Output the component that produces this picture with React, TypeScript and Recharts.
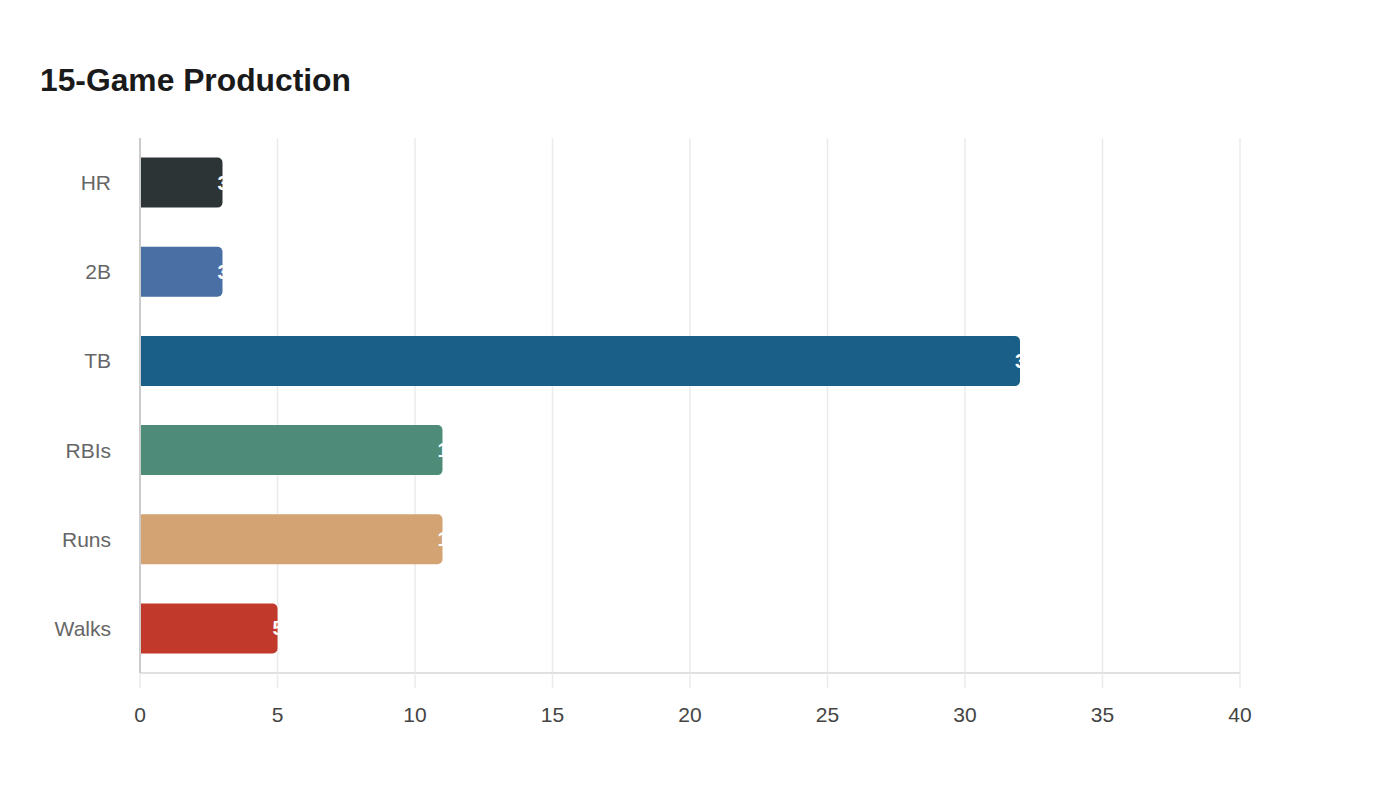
import React from "react";
import { BarChart, Bar, XAxis, YAxis, CartesianGrid, Cell, LabelList } from "recharts";

const categories = ["HR", "2B", "TB", "RBIs", "Runs", "Walks"];
const values = [3, 3, 32, 11, 11, 5];
const colors = ["#2d3436", "#4a6fa5", "#1a5f87", "#4e8c79", "#d4a373", "#c0392b"];
const xTicks = [0, 5, 10, 15, 20, 25, 30, 35, 40];

const data = categories.map((c, i) => ({ name: c, value: values[i] }));

const FONT = "'Liberation Sans', Arial, Helvetica, sans-serif";

const EndLabel = (props: any) => {
  const { x, y, width, height, value } = props;
  return (
    <text
      x={Number(x) + Number(width) - 5}
      y={Number(y) + Number(height) / 2}
      dy="0.35em"
      fill="#ffffff"
      fontSize={20}
      fontWeight="bold"
      fontFamily={FONT}
      textAnchor="start"
    >
      {value}
    </text>
  );
};

export default function App() {
  return (
    <div style={{ position: "relative", width: 1400, height: 800, margin: -8, background: "#fff", fontFamily: FONT }}>
      <div
        style={{
          position: "absolute",
          left: 40,
          top: 60,
          fontSize: 31.8,
          fontWeight: "bold",
          color: "#1a1a1a",
          lineHeight: "40px",
        }}
      >
        15-Game Production
      </div>
      <BarChart
        width={1400}
        height={800}
        data={data}
        layout="vertical"
        margin={{ top: 138, right: 160, bottom: 67, left: 0 }}
        barCategoryGap="22%"
      >
        <CartesianGrid horizontal={false} vertical={true} stroke="#ebebeb" strokeWidth={1.5} />
        <XAxis
          type="number"
          domain={[0, 40]}
          ticks={xTicks}
          interval={0}
          height={60}
          axisLine={{ stroke: "#e0e0e0", strokeWidth: 2 }}
          tickLine={{ stroke: "#ebebeb", strokeWidth: 1.5 }}
          tickSize={15}
          tickMargin={19}
          tick={{ fill: "#444444", fontSize: 21, fontFamily: FONT }}
        />
        <YAxis
          type="category"
          dataKey="name"
          width={140}
          axisLine={{ stroke: "#cccccc", strokeWidth: 2 }}
          tickLine={false}
          tickSize={0}
          tickMargin={29}
          tick={{ fill: "#666666", fontSize: 21, fontFamily: FONT }}
        />
        <Bar dataKey="value" isAnimationActive={false} radius={[0, 5, 5, 0]}>
          {data.map((d, i) => (
            <Cell key={d.name} fill={colors[i]} />
          ))}
          <LabelList dataKey="value" content={EndLabel} />
        </Bar>
      </BarChart>
    </div>
  );
}
